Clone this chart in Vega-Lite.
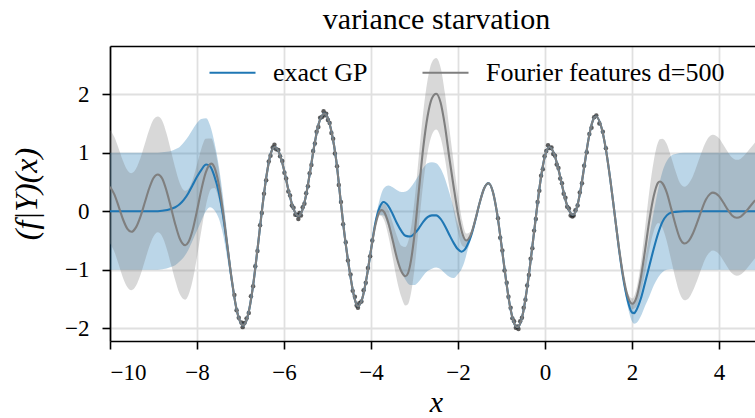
{
  "$schema": "https://vega.github.io/schema/vega-lite/v6.json",
  "width": 645,
  "height": 295,
  "autosize": {"type": "none"},
  "padding": {"left": 110, "top": 46, "right": 0, "bottom": 77},
  "background": "white",
  "title": {
    "text": "variance starvation",
    "font": "Liberation Serif",
    "fontSize": 30,
    "fontWeight": "normal",
    "color": "black",
    "anchor": "middle",
    "dx": 4,
    "baseline": "alphabetic",
    "offset": -13
  },
  "config": {
    "font": "Liberation Serif",
    "view": {"stroke": null},
    "axis": {
      "domainColor": "black",
      "domainWidth": 1.7,
      "tickColor": "black",
      "tickWidth": 1.6,
      "tickSize": 8,
      "labelFont": "Liberation Serif",
      "labelFontSize": 23,
      "labelColor": "black",
      "gridColor": "#e0e0e0",
      "gridWidth": 1.8,
      "titleFont": "Liberation Serif",
      "titleFontSize": 32,
      "titleFontWeight": "normal",
      "titleFontStyle": "italic",
      "titleColor": "black"
    }
  },
  "datasets": {
    "exact": [
      {"x": -10, "m": 0, "lo": -1, "hi": 1},
      {"x": -9.5, "m": 0, "lo": -1, "hi": 1},
      {"x": -9, "m": 0, "lo": -1, "hi": 1},
      {"x": -8.8, "m": 0.01, "lo": -0.99, "hi": 1.01},
      {"x": -8.6, "m": 0.04, "lo": -0.95, "hi": 1.03},
      {"x": -8.5, "m": 0.07, "lo": -0.92, "hi": 1.06},
      {"x": -8.4, "m": 0.12, "lo": -0.86, "hi": 1.1},
      {"x": -8.3, "m": 0.2, "lo": -0.78, "hi": 1.18},
      {"x": -8.2, "m": 0.31, "lo": -0.66, "hi": 1.28},
      {"x": -8.1, "m": 0.45, "lo": -0.5, "hi": 1.4},
      {"x": -8, "m": 0.59, "lo": -0.33, "hi": 1.51},
      {"x": -7.9, "m": 0.71, "lo": -0.16, "hi": 1.58},
      {"x": -7.79, "m": 0.8, "lo": 0.01, "hi": 1.59},
      {"x": -7.7, "m": 0.77, "lo": 0.07, "hi": 1.47},
      {"x": -7.6, "m": 0.6, "lo": 0.02, "hi": 1.18},
      {"x": -7.5, "m": 0.33, "lo": -0.12, "hi": 0.78},
      {"x": -7.4, "m": -0.08, "lo": -0.4, "hi": 0.24},
      {"x": -7.3, "m": -0.62, "lo": -0.82, "hi": -0.42},
      {"x": -7.2, "m": -1.18, "lo": -1.28, "hi": -1.08},
      {"x": -7.1, "m": -1.64, "lo": -1.69, "hi": -1.59},
      {"x": -7, "m": -1.9, "lo": -1.93, "hi": -1.87},
      {"x": -6.94, "m": -1.95, "lo": -1.97, "hi": -1.93},
      {"x": -6.9, "m": -1.93, "lo": -1.95, "hi": -1.91},
      {"x": -6.8, "m": -1.68, "lo": -1.7, "hi": -1.66},
      {"x": -6.7, "m": -1.21, "lo": -1.23, "hi": -1.19},
      {"x": -6.6, "m": -0.59, "lo": -0.61, "hi": -0.57},
      {"x": -6.5, "m": 0.06, "lo": 0.04, "hi": 0.08},
      {"x": -6.4, "m": 0.62, "lo": 0.6, "hi": 0.64},
      {"x": -6.3, "m": 1.0, "lo": 0.98, "hi": 1.02},
      {"x": -6.21, "m": 1.1, "lo": 1.08, "hi": 1.12},
      {"x": -6.1, "m": 0.98, "lo": 0.96, "hi": 1.0},
      {"x": -6, "m": 0.71, "lo": 0.69, "hi": 0.73},
      {"x": -5.9, "m": 0.37, "lo": 0.35, "hi": 0.39},
      {"x": -5.8, "m": 0.08, "lo": 0.06, "hi": 0.1},
      {"x": -5.67, "m": -0.08, "lo": -0.1, "hi": -0.06},
      {"x": -5.6, "m": -0.02, "lo": -0.04, "hi": 0},
      {"x": -5.5, "m": 0.25, "lo": 0.23, "hi": 0.27},
      {"x": -5.4, "m": 0.68, "lo": 0.66, "hi": 0.7},
      {"x": -5.3, "m": 1.14, "lo": 1.12, "hi": 1.16},
      {"x": -5.2, "m": 1.5, "lo": 1.48, "hi": 1.52},
      {"x": -5.1, "m": 1.66, "lo": 1.64, "hi": 1.68},
      {"x": -5.07, "m": 1.67, "lo": 1.65, "hi": 1.69},
      {"x": -5, "m": 1.61, "lo": 1.59, "hi": 1.63},
      {"x": -4.9, "m": 1.33, "lo": 1.31, "hi": 1.35},
      {"x": -4.8, "m": 0.88, "lo": 0.86, "hi": 0.9},
      {"x": -4.7, "m": 0.2, "lo": 0.18, "hi": 0.22},
      {"x": -4.6, "m": -0.45, "lo": -0.47, "hi": -0.43},
      {"x": -4.5, "m": -0.98, "lo": -1.0, "hi": -0.96},
      {"x": -4.4, "m": -1.42, "lo": -1.44, "hi": -1.4},
      {"x": -4.35, "m": -1.56, "lo": -1.58, "hi": -1.54},
      {"x": -4.3, "m": -1.62, "lo": -1.64, "hi": -1.6},
      {"x": -4.2, "m": -1.49, "lo": -1.51, "hi": -1.47},
      {"x": -4.1, "m": -1.13, "lo": -1.15, "hi": -1.11},
      {"x": -4, "m": -0.66, "lo": -0.68, "hi": -0.64},
      {"x": -3.9, "m": -0.2, "lo": -0.25, "hi": -0.15},
      {"x": -3.8, "m": 0.07, "lo": -0.06, "hi": 0.2},
      {"x": -3.71, "m": 0.16, "lo": -0.07, "hi": 0.39},
      {"x": -3.6, "m": 0.09, "lo": -0.26, "hi": 0.44},
      {"x": -3.5, "m": -0.05, "lo": -0.51, "hi": 0.41},
      {"x": -3.4, "m": -0.21, "lo": -0.78, "hi": 0.36},
      {"x": -3.3, "m": -0.34, "lo": -1.01, "hi": 0.33},
      {"x": -3.2, "m": -0.42, "lo": -1.18, "hi": 0.34},
      {"x": -3.1, "m": -0.43, "lo": -1.26, "hi": 0.4},
      {"x": -3, "m": -0.38, "lo": -1.26, "hi": 0.5},
      {"x": -2.9, "m": -0.29, "lo": -1.2, "hi": 0.62},
      {"x": -2.8, "m": -0.18, "lo": -1.1, "hi": 0.74},
      {"x": -2.7, "m": -0.1, "lo": -1.02, "hi": 0.82},
      {"x": -2.6, "m": -0.07, "lo": -0.98, "hi": 0.84},
      {"x": -2.5, "m": -0.07, "lo": -0.96, "hi": 0.82},
      {"x": -2.4, "m": -0.13, "lo": -0.99, "hi": 0.73},
      {"x": -2.3, "m": -0.25, "lo": -1.06, "hi": 0.56},
      {"x": -2.2, "m": -0.4, "lo": -1.12, "hi": 0.32},
      {"x": -2.1, "m": -0.54, "lo": -1.14, "hi": 0.06},
      {"x": -2, "m": -0.65, "lo": -1.07, "hi": -0.23},
      {"x": -1.92, "m": -0.69, "lo": -0.99, "hi": -0.39},
      {"x": -1.85, "m": -0.66, "lo": -0.86, "hi": -0.46},
      {"x": -1.8, "m": -0.6, "lo": -0.72, "hi": -0.48},
      {"x": -1.7, "m": -0.42, "lo": -0.47, "hi": -0.37},
      {"x": -1.6, "m": -0.15, "lo": -0.18, "hi": -0.12},
      {"x": -1.5, "m": 0.15, "lo": 0.13, "hi": 0.17},
      {"x": -1.4, "m": 0.39, "lo": 0.37, "hi": 0.41},
      {"x": -1.3, "m": 0.48, "lo": 0.46, "hi": 0.5},
      {"x": -1.2, "m": 0.34, "lo": 0.32, "hi": 0.36},
      {"x": -1.1, "m": -0.04, "lo": -0.06, "hi": -0.02},
      {"x": -1, "m": -0.58, "lo": -0.6, "hi": -0.56},
      {"x": -0.9, "m": -1.15, "lo": -1.17, "hi": -1.13},
      {"x": -0.8, "m": -1.64, "lo": -1.66, "hi": -1.62},
      {"x": -0.7, "m": -1.93, "lo": -1.95, "hi": -1.91},
      {"x": -0.64, "m": -1.98, "lo": -2.0, "hi": -1.96},
      {"x": -0.6, "m": -1.96, "lo": -1.98, "hi": -1.94},
      {"x": -0.5, "m": -1.72, "lo": -1.74, "hi": -1.7},
      {"x": -0.4, "m": -1.25, "lo": -1.27, "hi": -1.23},
      {"x": -0.3, "m": -0.66, "lo": -0.68, "hi": -0.64},
      {"x": -0.2, "m": -0.04, "lo": -0.06, "hi": -0.02},
      {"x": -0.1, "m": 0.54, "lo": 0.52, "hi": 0.56},
      {"x": 0, "m": 0.95, "lo": 0.93, "hi": 0.97},
      {"x": 0.1, "m": 1.1, "lo": 1.08, "hi": 1.12},
      {"x": 0.2, "m": 1.0, "lo": 0.98, "hi": 1.02},
      {"x": 0.3, "m": 0.75, "lo": 0.73, "hi": 0.77},
      {"x": 0.4, "m": 0.42, "lo": 0.4, "hi": 0.44},
      {"x": 0.5, "m": 0.12, "lo": 0.1, "hi": 0.14},
      {"x": 0.6, "m": -0.04, "lo": -0.06, "hi": -0.02},
      {"x": 0.64, "m": -0.06, "lo": -0.08, "hi": -0.04},
      {"x": 0.7, "m": -0.01, "lo": -0.03, "hi": 0.01},
      {"x": 0.8, "m": 0.29, "lo": 0.27, "hi": 0.31},
      {"x": 0.9, "m": 0.75, "lo": 0.73, "hi": 0.77},
      {"x": 1, "m": 1.23, "lo": 1.21, "hi": 1.25},
      {"x": 1.1, "m": 1.55, "lo": 1.53, "hi": 1.57},
      {"x": 1.17, "m": 1.62, "lo": 1.6, "hi": 1.64},
      {"x": 1.3, "m": 1.43, "lo": 1.41, "hi": 1.45},
      {"x": 1.4, "m": 1.06, "lo": 1.04, "hi": 1.08},
      {"x": 1.5, "m": 0.55, "lo": 0.53, "hi": 0.57},
      {"x": 1.6, "m": -0.04, "lo": -0.06, "hi": -0.02},
      {"x": 1.7, "m": -0.64, "lo": -0.67, "hi": -0.61},
      {"x": 1.8, "m": -1.15, "lo": -1.21, "hi": -1.09},
      {"x": 1.9, "m": -1.52, "lo": -1.62, "hi": -1.42},
      {"x": 2, "m": -1.73, "lo": -1.88, "hi": -1.58},
      {"x": 2.05, "m": -1.74, "lo": -1.92, "hi": -1.56},
      {"x": 2.1, "m": -1.69, "lo": -1.91, "hi": -1.47},
      {"x": 2.2, "m": -1.5, "lo": -1.8, "hi": -1.2},
      {"x": 2.3, "m": -1.22, "lo": -1.62, "hi": -0.82},
      {"x": 2.4, "m": -0.93, "lo": -1.45, "hi": -0.41},
      {"x": 2.5, "m": -0.64, "lo": -1.27, "hi": -0.01},
      {"x": 2.6, "m": -0.38, "lo": -1.13, "hi": 0.37},
      {"x": 2.7, "m": -0.18, "lo": -1.04, "hi": 0.68},
      {"x": 2.8, "m": -0.07, "lo": -1.0, "hi": 0.86},
      {"x": 2.9, "m": -0.02, "lo": -0.99, "hi": 0.95},
      {"x": 3, "m": -0.01, "lo": -1.0, "hi": 0.98},
      {"x": 3.2, "m": 0, "lo": -1, "hi": 1},
      {"x": 4, "m": 0, "lo": -1, "hi": 1},
      {"x": 4.83, "m": 0, "lo": -1, "hi": 1}
    ],
    "fourier": [
      {"x": -10, "m": 0.42, "lo": -0.55, "hi": 1.39},
      {"x": -9.9, "m": 0.29, "lo": -0.69, "hi": 1.27},
      {"x": -9.8, "m": 0.08, "lo": -0.91, "hi": 1.07},
      {"x": -9.7, "m": -0.14, "lo": -1.14, "hi": 0.86},
      {"x": -9.6, "m": -0.3, "lo": -1.3, "hi": 0.7},
      {"x": -9.51, "m": -0.35, "lo": -1.35, "hi": 0.65},
      {"x": -9.4, "m": -0.27, "lo": -1.27, "hi": 0.73},
      {"x": -9.3, "m": -0.09, "lo": -1.09, "hi": 0.91},
      {"x": -9.2, "m": 0.15, "lo": -0.85, "hi": 1.15},
      {"x": -9.1, "m": 0.39, "lo": -0.61, "hi": 1.39},
      {"x": -9, "m": 0.57, "lo": -0.43, "hi": 1.57},
      {"x": -8.9, "m": 0.63, "lo": -0.36, "hi": 1.62},
      {"x": -8.8, "m": 0.56, "lo": -0.43, "hi": 1.55},
      {"x": -8.7, "m": 0.35, "lo": -0.63, "hi": 1.33},
      {"x": -8.6, "m": 0.07, "lo": -0.9, "hi": 1.04},
      {"x": -8.5, "m": -0.22, "lo": -1.18, "hi": 0.74},
      {"x": -8.4, "m": -0.46, "lo": -1.41, "hi": 0.49},
      {"x": -8.27, "m": -0.58, "lo": -1.51, "hi": 0.35},
      {"x": -8.2, "m": -0.53, "lo": -1.44, "hi": 0.38},
      {"x": -8.1, "m": -0.32, "lo": -1.18, "hi": 0.54},
      {"x": -8, "m": 0.01, "lo": -0.78, "hi": 0.8},
      {"x": -7.9, "m": 0.37, "lo": -0.33, "hi": 1.07},
      {"x": -7.8, "m": 0.66, "lo": 0.08, "hi": 1.24},
      {"x": -7.67, "m": 0.815, "lo": 0.385, "hi": 1.245},
      {"x": -7.6, "m": 0.75, "lo": 0.4, "hi": 1.1},
      {"x": -7.5, "m": 0.46, "lo": 0.21, "hi": 0.71},
      {"x": -7.4, "m": -0.02, "lo": -0.17, "hi": 0.13},
      {"x": -7.3, "m": -0.6, "lo": -0.68, "hi": -0.52},
      {"x": -7.2, "m": -1.17, "lo": -1.21, "hi": -1.13},
      {"x": -7.1, "m": -1.64, "lo": -1.66, "hi": -1.62},
      {"x": -7, "m": -1.9, "lo": -1.92, "hi": -1.88},
      {"x": -6.94, "m": -1.95, "lo": -1.97, "hi": -1.93},
      {"x": -6.9, "m": -1.93, "lo": -1.95, "hi": -1.91},
      {"x": -6.8, "m": -1.68, "lo": -1.7, "hi": -1.66},
      {"x": -6.7, "m": -1.21, "lo": -1.23, "hi": -1.19},
      {"x": -6.6, "m": -0.59, "lo": -0.61, "hi": -0.57},
      {"x": -6.5, "m": 0.06, "lo": 0.04, "hi": 0.08},
      {"x": -6.4, "m": 0.62, "lo": 0.6, "hi": 0.64},
      {"x": -6.3, "m": 1.0, "lo": 0.98, "hi": 1.02},
      {"x": -6.21, "m": 1.1, "lo": 1.08, "hi": 1.12},
      {"x": -6.1, "m": 0.98, "lo": 0.96, "hi": 1.0},
      {"x": -6, "m": 0.71, "lo": 0.69, "hi": 0.73},
      {"x": -5.9, "m": 0.37, "lo": 0.35, "hi": 0.39},
      {"x": -5.8, "m": 0.08, "lo": 0.06, "hi": 0.1},
      {"x": -5.67, "m": -0.08, "lo": -0.1, "hi": -0.06},
      {"x": -5.6, "m": -0.02, "lo": -0.04, "hi": 0},
      {"x": -5.5, "m": 0.25, "lo": 0.23, "hi": 0.27},
      {"x": -5.4, "m": 0.68, "lo": 0.66, "hi": 0.7},
      {"x": -5.3, "m": 1.14, "lo": 1.12, "hi": 1.16},
      {"x": -5.2, "m": 1.5, "lo": 1.48, "hi": 1.52},
      {"x": -5.1, "m": 1.66, "lo": 1.64, "hi": 1.68},
      {"x": -5.07, "m": 1.67, "lo": 1.65, "hi": 1.69},
      {"x": -5, "m": 1.61, "lo": 1.59, "hi": 1.63},
      {"x": -4.9, "m": 1.33, "lo": 1.31, "hi": 1.35},
      {"x": -4.8, "m": 0.88, "lo": 0.86, "hi": 0.9},
      {"x": -4.7, "m": 0.2, "lo": 0.18, "hi": 0.22},
      {"x": -4.6, "m": -0.45, "lo": -0.47, "hi": -0.43},
      {"x": -4.5, "m": -0.98, "lo": -1.0, "hi": -0.96},
      {"x": -4.4, "m": -1.42, "lo": -1.44, "hi": -1.4},
      {"x": -4.35, "m": -1.56, "lo": -1.58, "hi": -1.54},
      {"x": -4.3, "m": -1.62, "lo": -1.64, "hi": -1.6},
      {"x": -4.2, "m": -1.49, "lo": -1.51, "hi": -1.47},
      {"x": -4.1, "m": -1.13, "lo": -1.15, "hi": -1.11},
      {"x": -4, "m": -0.66, "lo": -0.68, "hi": -0.64},
      {"x": -3.9, "m": -0.24, "lo": -0.27, "hi": -0.21},
      {"x": -3.8, "m": 0.0, "lo": -0.07, "hi": 0.07},
      {"x": -3.76, "m": 0.02, "lo": -0.08, "hi": 0.12},
      {"x": -3.7, "m": -0.01, "lo": -0.15, "hi": 0.13},
      {"x": -3.6, "m": -0.2, "lo": -0.42, "hi": 0.02},
      {"x": -3.5, "m": -0.5, "lo": -0.8, "hi": -0.2},
      {"x": -3.4, "m": -0.81, "lo": -1.19, "hi": -0.43},
      {"x": -3.3, "m": -1.03, "lo": -1.47, "hi": -0.59},
      {"x": -3.21, "m": -1.11, "lo": -1.61, "hi": -0.61},
      {"x": -3.15, "m": -1.06, "lo": -1.59, "hi": -0.53},
      {"x": -3.1, "m": -0.92, "lo": -1.47, "hi": -0.37},
      {"x": -3, "m": -0.4, "lo": -0.98, "hi": 0.18},
      {"x": -2.9, "m": 0.35, "lo": -0.25, "hi": 0.95},
      {"x": -2.8, "m": 1.08, "lo": 0.47, "hi": 1.69},
      {"x": -2.7, "m": 1.62, "lo": 1.0, "hi": 2.24},
      {"x": -2.6, "m": 1.93, "lo": 1.31, "hi": 2.55},
      {"x": -2.5, "m": 2.01, "lo": 1.4, "hi": 2.62},
      {"x": -2.4, "m": 1.86, "lo": 1.26, "hi": 2.46},
      {"x": -2.3, "m": 1.46, "lo": 0.9, "hi": 2.02},
      {"x": -2.2, "m": 0.92, "lo": 0.42, "hi": 1.42},
      {"x": -2.1, "m": 0.42, "lo": 0.0, "hi": 0.84},
      {"x": -2, "m": -0.04, "lo": -0.36, "hi": 0.28},
      {"x": -1.9, "m": -0.38, "lo": -0.59, "hi": -0.17},
      {"x": -1.81, "m": -0.5, "lo": -0.62, "hi": -0.38},
      {"x": -1.7, "m": -0.39, "lo": -0.44, "hi": -0.34},
      {"x": -1.6, "m": -0.14, "lo": -0.17, "hi": -0.11},
      {"x": -1.5, "m": 0.15, "lo": 0.13, "hi": 0.17},
      {"x": -1.4, "m": 0.39, "lo": 0.37, "hi": 0.41},
      {"x": -1.3, "m": 0.48, "lo": 0.46, "hi": 0.5},
      {"x": -1.2, "m": 0.34, "lo": 0.32, "hi": 0.36},
      {"x": -1.1, "m": -0.04, "lo": -0.06, "hi": -0.02},
      {"x": -1, "m": -0.58, "lo": -0.6, "hi": -0.56},
      {"x": -0.9, "m": -1.15, "lo": -1.17, "hi": -1.13},
      {"x": -0.8, "m": -1.64, "lo": -1.66, "hi": -1.62},
      {"x": -0.7, "m": -1.93, "lo": -1.95, "hi": -1.91},
      {"x": -0.64, "m": -1.98, "lo": -2.0, "hi": -1.96},
      {"x": -0.6, "m": -1.96, "lo": -1.98, "hi": -1.94},
      {"x": -0.5, "m": -1.72, "lo": -1.74, "hi": -1.7},
      {"x": -0.4, "m": -1.25, "lo": -1.27, "hi": -1.23},
      {"x": -0.3, "m": -0.66, "lo": -0.68, "hi": -0.64},
      {"x": -0.2, "m": -0.04, "lo": -0.06, "hi": -0.02},
      {"x": -0.1, "m": 0.54, "lo": 0.52, "hi": 0.56},
      {"x": 0, "m": 0.95, "lo": 0.93, "hi": 0.97},
      {"x": 0.1, "m": 1.1, "lo": 1.08, "hi": 1.12},
      {"x": 0.2, "m": 1.0, "lo": 0.98, "hi": 1.02},
      {"x": 0.3, "m": 0.75, "lo": 0.73, "hi": 0.77},
      {"x": 0.4, "m": 0.42, "lo": 0.4, "hi": 0.44},
      {"x": 0.5, "m": 0.12, "lo": 0.1, "hi": 0.14},
      {"x": 0.6, "m": -0.04, "lo": -0.06, "hi": -0.02},
      {"x": 0.64, "m": -0.06, "lo": -0.08, "hi": -0.04},
      {"x": 0.7, "m": -0.01, "lo": -0.03, "hi": 0.01},
      {"x": 0.8, "m": 0.29, "lo": 0.27, "hi": 0.31},
      {"x": 0.9, "m": 0.75, "lo": 0.73, "hi": 0.77},
      {"x": 1, "m": 1.23, "lo": 1.21, "hi": 1.25},
      {"x": 1.1, "m": 1.55, "lo": 1.53, "hi": 1.57},
      {"x": 1.17, "m": 1.62, "lo": 1.6, "hi": 1.64},
      {"x": 1.3, "m": 1.43, "lo": 1.41, "hi": 1.45},
      {"x": 1.4, "m": 1.06, "lo": 1.04, "hi": 1.08},
      {"x": 1.5, "m": 0.55, "lo": 0.53, "hi": 0.57},
      {"x": 1.6, "m": -0.04, "lo": -0.06, "hi": -0.02},
      {"x": 1.7, "m": -0.62, "lo": -0.65, "hi": -0.59},
      {"x": 1.8, "m": -1.11, "lo": -1.15, "hi": -1.07},
      {"x": 1.9, "m": -1.45, "lo": -1.51, "hi": -1.39},
      {"x": 2.01, "m": -1.58, "lo": -1.67, "hi": -1.49},
      {"x": 2.1, "m": -1.48, "lo": -1.63, "hi": -1.33},
      {"x": 2.2, "m": -1.15, "lo": -1.4, "hi": -0.9},
      {"x": 2.3, "m": -0.67, "lo": -1.05, "hi": -0.29},
      {"x": 2.4, "m": -0.15, "lo": -0.65, "hi": 0.35},
      {"x": 2.5, "m": 0.26, "lo": -0.34, "hi": 0.86},
      {"x": 2.6, "m": 0.49, "lo": -0.2, "hi": 1.18},
      {"x": 2.64, "m": 0.51, "lo": -0.21, "hi": 1.23},
      {"x": 2.7, "m": 0.48, "lo": -0.28, "hi": 1.24},
      {"x": 2.8, "m": 0.32, "lo": -0.51, "hi": 1.15},
      {"x": 2.9, "m": 0.05, "lo": -0.83, "hi": 0.93},
      {"x": 3, "m": -0.23, "lo": -1.15, "hi": 0.69},
      {"x": 3.1, "m": -0.46, "lo": -1.41, "hi": 0.49},
      {"x": 3.21, "m": -0.55, "lo": -1.52, "hi": 0.42},
      {"x": 3.3, "m": -0.51, "lo": -1.49, "hi": 0.47},
      {"x": 3.4, "m": -0.38, "lo": -1.36, "hi": 0.6},
      {"x": 3.5, "m": -0.19, "lo": -1.18, "hi": 0.8},
      {"x": 3.6, "m": 0.02, "lo": -0.97, "hi": 1.01},
      {"x": 3.7, "m": 0.2, "lo": -0.79, "hi": 1.19},
      {"x": 3.8, "m": 0.3, "lo": -0.69, "hi": 1.29},
      {"x": 3.86, "m": 0.32, "lo": -0.67, "hi": 1.31},
      {"x": 4, "m": 0.26, "lo": -0.73, "hi": 1.25},
      {"x": 4.1, "m": 0.15, "lo": -0.84, "hi": 1.14},
      {"x": 4.2, "m": 0.03, "lo": -0.96, "hi": 1.02},
      {"x": 4.3, "m": -0.07, "lo": -1.06, "hi": 0.92},
      {"x": 4.41, "m": -0.11, "lo": -1.1, "hi": 0.88},
      {"x": 4.5, "m": -0.09, "lo": -1.08, "hi": 0.9},
      {"x": 4.6, "m": -0.02, "lo": -1.01, "hi": 0.97},
      {"x": 4.7, "m": 0.07, "lo": -0.92, "hi": 1.06},
      {"x": 4.83, "m": 0.19, "lo": -0.8, "hi": 1.18}
    ],
    "obs": [
      {"x": -7.14, "y": -1.43}, {"x": -7.09, "y": -1.69}, {"x": -7.04, "y": -1.82},
      {"x": -6.98, "y": -1.9}, {"x": -6.95, "y": -1.98}, {"x": -6.91, "y": -1.91},
      {"x": -6.86, "y": -1.83}, {"x": -6.81, "y": -1.74}, {"x": -6.76, "y": -1.45},
      {"x": -6.71, "y": -1.28}, {"x": -6.66, "y": -0.94}, {"x": -6.61, "y": -0.68},
      {"x": -6.55, "y": -0.24}, {"x": -6.51, "y": -0.03}, {"x": -6.46, "y": 0.3},
      {"x": -6.41, "y": 0.53}, {"x": -6.35, "y": 0.85}, {"x": -6.31, "y": 0.95},
      {"x": -6.26, "y": 1.09}, {"x": -6.22, "y": 1.14}, {"x": -6.18, "y": 1.06},
      {"x": -6.13, "y": 1.05}, {"x": -6.09, "y": 0.94}, {"x": -6.04, "y": 0.86},
      {"x": -5.99, "y": 0.66}, {"x": -5.95, "y": 0.56}, {"x": -5.9, "y": 0.34},
      {"x": -5.86, "y": 0.27}, {"x": -5.82, "y": 0.1}, {"x": -5.78, "y": 0.06},
      {"x": -5.74, "y": -0.06}, {"x": -5.7, "y": -0.06}, {"x": -5.67, "y": -0.13},
      {"x": -5.64, "y": -0.03}, {"x": -5.61, "y": -0.07}, {"x": -5.57, "y": 0.07},
      {"x": -5.53, "y": 0.13}, {"x": -5.49, "y": 0.31}, {"x": -5.45, "y": 0.43},
      {"x": -5.41, "y": 0.65}, {"x": -5.37, "y": 0.79}, {"x": -5.33, "y": 1.03},
      {"x": -5.29, "y": 1.16}, {"x": -5.25, "y": 1.36}, {"x": -5.21, "y": 1.44},
      {"x": -5.17, "y": 1.6}, {"x": -5.13, "y": 1.61}, {"x": -5.09, "y": 1.71},
      {"x": -5.06, "y": 1.64}, {"x": -5.03, "y": 1.67}, {"x": -4.99, "y": 1.56},
      {"x": -4.95, "y": 1.51}, {"x": -4.91, "y": 1.34}, {"x": -4.87, "y": 1.24},
      {"x": -4.83, "y": 0.99}, {"x": -4.78, "y": 0.77}, {"x": -4.74, "y": 0.45},
      {"x": -4.69, "y": 0.16}, {"x": -4.64, "y": -0.22}, {"x": -4.58, "y": -0.53},
      {"x": -4.53, "y": -0.84}, {"x": -4.47, "y": -1.08}, {"x": -4.42, "y": -1.36},
      {"x": -4.37, "y": -1.46}, {"x": -4.33, "y": -1.61}, {"x": -4.3, "y": -1.65},
      {"x": -4.27, "y": -1.57}, {"x": -4.22, "y": -1.54}, {"x": -4.17, "y": -1.35},
      {"x": -4.12, "y": -1.22}, {"x": -4.07, "y": -0.97}, {"x": -4.02, "y": -0.77},
      {"x": -3.97, "y": -0.5},
      {"x": -1.08, "y": -0.12}, {"x": -1.03, "y": -0.45}, {"x": -0.98, "y": -0.67},
      {"x": -0.93, "y": -1.01}, {"x": -0.88, "y": -1.22}, {"x": -0.84, "y": -1.46},
      {"x": -0.79, "y": -1.65}, {"x": -0.75, "y": -1.83}, {"x": -0.71, "y": -1.88},
      {"x": -0.67, "y": -1.99}, {"x": -0.64, "y": -1.97}, {"x": -0.61, "y": -2.01},
      {"x": -0.57, "y": -1.88}, {"x": -0.53, "y": -1.82}, {"x": -0.49, "y": -1.65},
      {"x": -0.45, "y": -1.51}, {"x": -0.41, "y": -1.27}, {"x": -0.37, "y": -1.09},
      {"x": -0.33, "y": -0.81}, {"x": -0.29, "y": -0.63}, {"x": -0.25, "y": -0.33},
      {"x": -0.21, "y": -0.13}, {"x": -0.17, "y": 0.16}, {"x": -0.13, "y": 0.35},
      {"x": -0.09, "y": 0.61}, {"x": -0.05, "y": 0.72}, {"x": -0.01, "y": 0.94},
      {"x": 0.03, "y": 1.03}, {"x": 0.07, "y": 1.13}, {"x": 0.11, "y": 1.08},
      {"x": 0.15, "y": 1.09}, {"x": 0.19, "y": 0.98}, {"x": 0.23, "y": 0.95},
      {"x": 0.27, "y": 0.8}, {"x": 0.31, "y": 0.74}, {"x": 0.35, "y": 0.56},
      {"x": 0.39, "y": 0.48}, {"x": 0.43, "y": 0.3}, {"x": 0.47, "y": 0.23},
      {"x": 0.51, "y": 0.08}, {"x": 0.55, "y": 0.05}, {"x": 0.59, "y": -0.07},
      {"x": 0.63, "y": -0.09}, {"x": 0.66, "y": -0.07}, {"x": 0.7, "y": 0.02},
      {"x": 0.75, "y": 0.1}, {"x": 0.8, "y": 0.32}, {"x": 0.85, "y": 0.48},
      {"x": 0.9, "y": 0.78}, {"x": 0.96, "y": 1.01}, {"x": 1.02, "y": 1.32},
      {"x": 1.07, "y": 1.43}, {"x": 1.13, "y": 1.61}, {"x": 1.18, "y": 1.64},
      {"x": 1.25, "y": 1.5}, {"x": 1.33, "y": 1.36}, {"x": 1.4, "y": 1.08}
    ]
  },
  "layer": [
    {
      "data": {"name": "exact"},
      "mark": {"type": "area", "color": "#1f77b4", "opacity": 0.3, "interpolate": "monotone", "clip": true},
      "encoding": {
        "x": {
          "field": "x",
          "type": "quantitative",
          "title": "x",
          "scale": {"domain": [-10, 4.828], "nice": false, "zero": false},
          "axis": {
            "orient": "bottom",
            "values": [-10, -8, -6, -4, -2, 0, 2, 4],
            "format": "d",
            "grid": true,
            "labelPadding": 12,
            "titleX": 326,
            "titleY": 70,
            "titleFontSize": 30,
            "titleBaseline": "alphabetic",
            "titleAlign": "center"
          }
        },
        "y": {
          "field": "lo",
          "type": "quantitative",
          "title": "(f|Y)(x)",
          "scale": {"domain": [-2.217, 2.826], "nice": false, "zero": false},
          "axis": {
            "values": [-2, -1, 0, 1, 2],
            "format": "d",
            "grid": true,
            "labelPadding": 13,
            "titleAngle": 270,
            "titleX": -74,
            "titleY": 147.5,
            "titleBaseline": "alphabetic",
            "titleAlign": "center"
          }
        },
        "y2": {"field": "hi"}
      }
    },
    {
      "data": {"name": "fourier"},
      "mark": {"type": "area", "color": "#7f7f7f", "opacity": 0.3, "interpolate": "monotone", "clip": true},
      "encoding": {
        "x": {"field": "x", "type": "quantitative", "title": "x", "axis": null},
        "y": {"field": "lo", "type": "quantitative", "title": "(f|Y)(x)"},
        "y2": {"field": "hi"}
      }
    },
    {
      "data": {"name": "obs"},
      "mark": {"type": "circle", "size": 20, "color": "#1e1e1e", "opacity": 0.72},
      "encoding": {
        "x": {
          "field": "x",
          "type": "quantitative",
          "title": null,
          "axis": {"orient": "top", "labels": false, "ticks": false, "grid": false, "domain": true, "title": null}
        },
        "y": {"field": "y", "type": "quantitative", "title": "(f|Y)(x)"}
      }
    },
    {
      "data": {"name": "exact"},
      "mark": {"type": "line", "strokeWidth": 2.1, "interpolate": "monotone", "clip": true},
      "encoding": {
        "x": {"field": "x", "type": "quantitative", "title": "x", "axis": null},
        "y": {"field": "m", "type": "quantitative", "title": "(f|Y)(x)"},
        "color": {
          "datum": "exact GP",
          "type": "nominal",
          "scale": {"domain": ["exact GP", "Fourier features d=500"], "range": ["#1f77b4", "#7f7f7f"]},
          "legend": {
            "title": null,
            "orient": "none",
            "legendX": 98,
            "legendY": 2,
            "direction": "horizontal",
            "symbolType": "stroke",
            "symbolSize": 2116,
            "symbolStrokeWidth": 2.2,
            "labelFont": "Liberation Serif",
            "labelFontSize": 26,
            "labelColor": "black",
            "labelOffset": 16,
            "labelLimit": 400,
            "columnPadding": 50,
            "padding": 0
          }
        }
      }
    },
    {
      "data": {"name": "fourier"},
      "mark": {"type": "line", "strokeWidth": 2.1, "interpolate": "monotone", "clip": true},
      "encoding": {
        "x": {"field": "x", "type": "quantitative", "title": "x", "axis": null},
        "y": {"field": "m", "type": "quantitative", "title": "(f|Y)(x)"},
        "color": {"datum": "Fourier features d=500", "type": "nominal"}
      }
    }
  ],
  "resolve": {"axis": {"x": "independent"}}
}
